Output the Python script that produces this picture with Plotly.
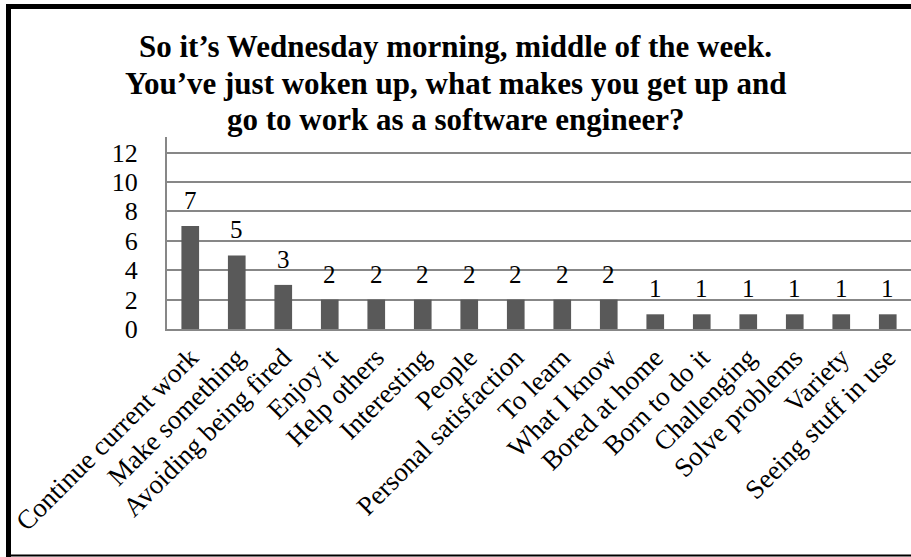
import plotly.graph_objects as go

categories = ["Continue current work", "Make something", "Avoiding being fired", "Enjoy it",
              "Help others", "Interesting", "People", "Personal satisfaction", "To learn",
              "What I know", "Bored at home", "Born to do it", "Challenging", "Solve problems",
              "Variety", "Seeing stuff in use"]
values = [7, 5, 3, 2, 2, 2, 2, 2, 2, 2, 1, 1, 1, 1, 1, 1]
y_ticks = [0, 2, 4, 6, 8, 10, 12]
title_lines = ["So it’s Wednesday morning, middle of the week.",
               "You’ve just woken up, what makes you get up and",
               "go to work as a software engineer?"]

W, H = 911, 557
L, R, T, B = 167, 911, 137, 329  # plot area in pixels
FONT = "Liberation Serif"

def px(x):
    return (x - L) / (R - L)

def py(y):
    return (B - y) / (B - T)

fig = go.Figure(go.Bar(
    x=categories, y=values,
    marker=dict(color="#595959", line=dict(width=0)),
))

annotations = []
for c, v in zip(categories, values):
    annotations.append(dict(x=c, y=v, xref="x", yref="y", text=str(v), showarrow=False,
                            yanchor="bottom", xanchor="center", yshift=10,
                            font=dict(family=FONT, size=25, color="black")))
for i, (line, yc) in enumerate(zip(title_lines, [46, 83, 119])):
    annotations.append(dict(text="<b>" + line + "</b>", xref="paper", yref="paper",
                            x=px(455), y=py(yc), xanchor="center", yanchor="middle",
                            showarrow=False, font=dict(family=FONT, size=31, color="black")))

fig.update_layout(
    width=W, height=H,
    margin=dict(l=L, r=W - R, t=T, b=H - B, pad=0),
    paper_bgcolor="white", plot_bgcolor="white",
    bargap=0.62,
    showlegend=False,
    font=dict(family=FONT, size=26, color="black"),
    xaxis=dict(tickangle=-45, showgrid=False, showline=True, linecolor="#878787",
               linewidth=2, ticks="", ticklabelstandoff=0,
               tickfont=dict(family=FONT, size=27, color="black")),
    yaxis=dict(range=[0, 13.06], tickvals=y_ticks, showgrid=True, gridcolor="#878787",
               gridwidth=2, showline=True, linecolor="#878787", linewidth=2,
               ticks="", ticklabelstandoff=22,
               tickfont=dict(family=FONT, size=26, color="black"), zeroline=False),
    annotations=annotations,
    shapes=[
        dict(type="line", xref="paper", yref="paper", x0=px(8.5), x1=px(8.5), y0=py(4), y1=py(557),
             line=dict(color="black", width=5)),
        dict(type="line", xref="paper", yref="paper", x0=px(6), x1=px(911), y0=py(6.5), y1=py(6.5),
             line=dict(color="black", width=5)),
        dict(type="line", xref="paper", yref="paper", x0=px(6), x1=px(911), y0=py(555.5), y1=py(555.5),
             line=dict(color="black", width=2)),
    ],
)

fig.write_html("out.html", config={"displayModeBar": False},
               post_script="document.body.style.margin='0';document.body.style.overflow='hidden';")
